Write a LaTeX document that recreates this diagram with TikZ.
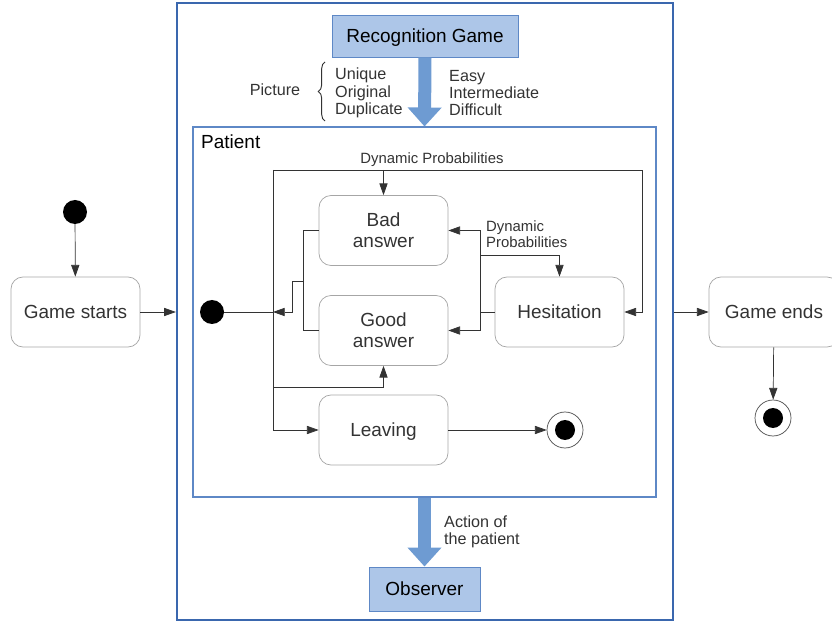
\documentclass[tikz,border=0pt]{standalone}
\usepackage{fontspec}
\setmainfont{Liberation Sans}
\usetikzlibrary{arrows.meta, positioning, shapes, calc, decorations.pathreplacing}

\definecolor{frameblue}{HTML}{3A67AE}
\definecolor{boxblue}{HTML}{ADC6E8}
\definecolor{edgeblue}{HTML}{5E88C6}
\definecolor{arrowblue}{HTML}{6E9BD2}
\definecolor{textgray}{HTML}{333333}

\tikzset{
  state/.style={draw=black!35, line width=0.6pt, rounded corners=0.36cm, minimum width=3.87cm,
    minimum height=2.1cm, align=center, text=textgray, text depth=0pt,
    font=\fontsize{16.2}{17.9}\selectfont},
  bluebox/.style={draw=edgeblue, fill=boxblue, line width=0.8pt, text=black, text depth=0pt,
    font=\fontsize{16.2}{17.9}\selectfont},
  line/.style={draw=textgray, line width=0.6pt},
  flow/.style={line, -{Triangle[length=10pt,width=7pt]}},
  bigarrow/.style={draw=arrowblue, line width=0.39cm, -{Triangle[length=0.57cm,width=0.99cm]}},
  note/.style={text=textgray, align=left, inner sep=0pt, font=\fontsize{13.8}{14.9}\selectfont},
  small/.style={text=textgray, align=left, inner sep=0pt, font=\fontsize{12.7}{14}\selectfont},
  initial/.style={circle, fill=black, minimum size=0.72cm, inner sep=0pt},
  final/.style={circle, draw=black!70, line width=0.6pt, minimum size=1.08cm, inner sep=0pt,
    path picture={\fill[black] (path picture bounding box.center) circle (0.3cm);}}
}

\begin{document}
\begin{tikzpicture}[x=0.03cm, y=-0.03cm]
  \useasboundingbox (0,0) rectangle (832,623);

  % frames
  \node[draw=frameblue, line width=2pt, minimum width=14.88cm, minimum height=18.51cm] (game) at (425,311.5) {};
  \node[draw=edgeblue, line width=0.9pt, minimum width=13.89cm, minimum height=11.1cm] (patient) at (424.5,312) {};
  \node[anchor=base west, inner sep=0pt, text=black, font=\fontsize{16.2}{17.9}\selectfont] (patientlbl) at (201,149) {Patient};

  % blue boxes
  \node[bluebox, minimum width=5.58cm, minimum height=1.26cm] (recog) at (425,36) {Recognition Game};
  \node[bluebox, minimum width=3.33cm, minimum height=1.32cm] (observer) at (424.5,589) {Observer};

  % states
  \node[initial] (init1) at (75,212) {};
  \node[state] (gstart) at (75.5,312) {Game starts};
  \node[state, minimum width=3.9cm] (gend) at (774,312) {Game ends};
  \node[final] (fin2) at (773,418) {};

  \node[initial] (init2) at (212,312) {};
  \node[state] (bad) at (383.5,230.5) {Bad\\answer};
  \node[state] (good) at (383.5,330.5) {Good\\answer};
  \node[state] (hes) at (559.5,312) {Hesitation};
  \node[state] (leave) at (383.5,430) {Leaving};
  \node[final] (fin1) at (565,430) {};

  % labels
  \node[note] (picture) at (275,90) {Picture};
  \node[note, anchor=west] (kinds) at (335,93) {Unique\\Original\\Duplicate};
  \node[note, anchor=west] (levels) at (449,93) {Easy\\Intermediate\\Difficult};
  \node[note, anchor=west] (action) at (444,532) {Action of\\the patient};
  \node[small] (dyntop) at (432,160) {Dynamic Probabilities};
  \node[small, anchor=west] (dynright) at (486,234) {Dynamic\\Probabilities};
  \draw[textgray, line width=0.8pt, decorate, decoration={brace, amplitude=0.2cm}] (325,121) -- (325,62);

  % big arrows
  \draw[bigarrow] (recog.south) -- (patient.north);
  \draw[bigarrow] (patient.south) -- (observer.north);

  % outer flow
  \draw[flow] (init1) -- (gstart);
  \draw[flow] (gstart) -- (gstart -| game.west);
  \draw[flow] (game.east |- gend) -- (gend);
  \draw[flow] (gend) -- (fin2);

  % inner flow
  \coordinate (split) at (273,312);
  \coordinate (tl) at (273,170);
  \coordinate (tr) at (642,170);
  \coordinate (gl) at (273,387);
  \coordinate (bl) at (273,430);
  \coordinate (ret) at (304,281);
  \coordinate (hv) at (480,312);
  \coordinate (hp) at (480,255);

  \draw[line] (init2) -- (split);
  \draw[line] (tl) -- (bl);
  \draw[flow] (tl) -- (tr) |- (hes.east);
  \draw[flow] (tl -| bad) -- (bad.north);
  \draw[flow] (gl) -| (good.south);
  \draw[flow] (bl) -- (leave.west);
  \draw[flow] (leave) -- (fin1);

  \draw[line] (bad.west) -- ++(-15,0) |- (good.west);
  \draw[flow] (ret) -- ++(-12,0) |- (split);

  \draw[line] (hes.west) -- (hv);
  \draw[flow] (hv) |- (bad.east);
  \draw[flow] (hv) |- (good.east);
  \draw[flow] (hp) -| (hes.north);
\end{tikzpicture}
\end{document}
